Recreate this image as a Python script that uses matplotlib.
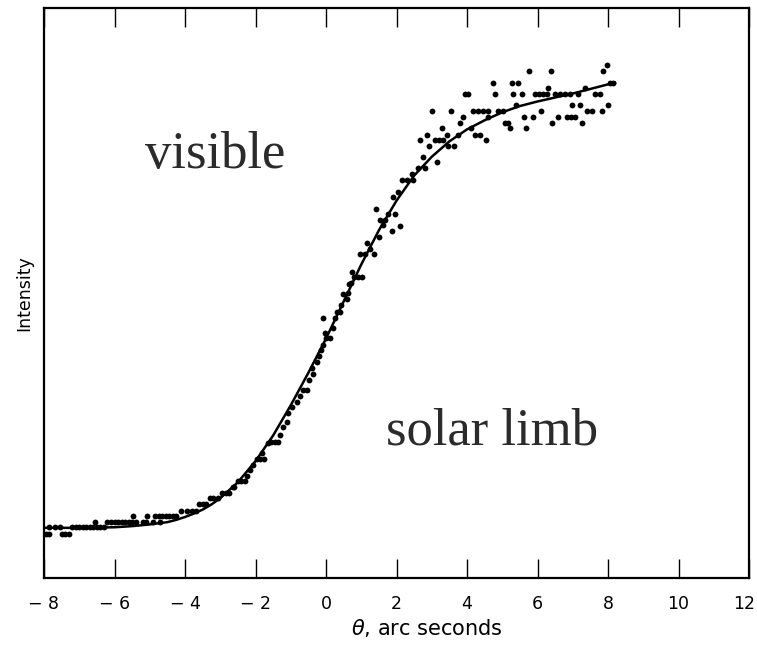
import matplotlib.pyplot as plt
import matplotlib.transforms as mtransforms
import numpy as np

dot_x = [-7.95, -7.85, -7.5, -7.4, -7.3,
         -7.85, -7.7, -7.55, -7.2, -7.1, -7.0, -6.9, -6.8, -6.7, -6.6, -6.5, -6.4, -6.3,
         -6.55,
         -6.2, -6.1, -6.0, -5.9, -5.8, -5.7, -5.6, -5.5, -5.4, -5.2, -5.1, -4.9, -4.71,
         -5.48, -5.08, -4.85, -4.75, -4.65, -4.55, -4.45, -4.35, -4.25,
         -4.1, -3.95, -3.8, -3.7,
         -3.6, -3.5, -3.4,
         -3.3, -3.2, -3.05,
         -2.95, -2.85, -2.75,
         -2.65, -2.6,
         -2.5, -2.4, -2.3, -2.24, -2.15, -2.07,
         -1.96, -1.86, -1.75, -1.82, -1.65, -1.55, -1.45, -1.35, -1.3, -1.22, -1.12, -1.08,
         -0.96, -0.82, -0.74, -0.65, -0.55, -0.48, -0.4, -0.37, -0.25, -0.2, -0.15, -0.09,
         -0.09, -0.03, 0.0, 0.1, 0.2, 0.25, 0.31, 0.4, 0.42, 0.47, 0.6, 0.62, 0.65, 0.7,
         0.75, 0.8, 0.9, 1.02, 0.97, 1.1, 1.16, 1.25, 1.36, 1.42, 1.5,
         1.53, 1.67, 1.62, 1.77, 1.96, 1.86, 2.10, 1.89, 2.05,
         2.15, 2.31, 2.46, 2.43, 2.62, 2.81, 2.74, 2.67, 2.86, 2.93, 3.16,
         3.0, 3.09, 3.21, 3.33, 3.28, 3.42, 3.47, 3.63, 3.55, 3.74, 3.80, 3.88,
         3.94, 4.04, 4.10, 4.23, 4.37, 4.18, 4.32, 4.46, 4.6, 4.53, 4.60,
         4.73, 4.79, 4.89, 5.03, 5.08, 5.17, 5.22, 5.27, 5.31, 5.39, 5.46, 5.55,
         5.62, 5.67, 5.77, 5.86, 5.93, 6.04, 6.15, 6.26, 6.10, 6.31, 6.37, 6.40,
         6.5, 6.64, 6.78, 6.59, 6.83, 6.95, 7.06, 6.92, 6.99, 7.16, 7.21, 7.25,
         7.35, 7.40, 7.54, 7.63, 7.77, 7.82, 7.87, 7.96, 8.01, 8.06, 8.15]
dot_y = [7.7, 7.7, 7.7, 7.7, 7.7,
         8.9, 8.9, 8.9, 8.9, 8.9, 8.9, 8.9, 8.9, 8.9, 8.9, 8.9, 8.9, 8.9,
         9.9,
         9.8, 9.8, 9.8, 9.8, 9.8, 9.8, 9.8, 9.8, 9.8, 9.8, 9.8, 9.8, 9.8,
         10.9, 10.9, 10.9, 10.9, 10.9, 10.9, 10.9, 10.9, 10.9,
         11.75, 11.75, 11.75, 11.75,
         13.0, 13.0, 13.0,
         14.0, 14.0, 14.0,
         15.0, 15.0, 15.0,
         16.0, 16.0,
         17.0, 17.0, 17.0, 17.9, 18.9, 19.8,
         20.9, 20.9, 20.9, 21.9, 23.7, 23.9, 23.9, 23.9, 25.1, 26.5, 27.3, 28.9,
         30.0, 30.9, 31.9, 33.0, 33.0, 34.7, 36.8, 35.8, 37.9, 38.9, 40.0, 40.9,
         45.6, 43.0, 42.1, 42.1, 43.9, 45.6, 46.7, 46.7, 47.9, 49.8, 48.9, 50.0, 51.6, 51.8,
         53.7, 52.8, 52.8, 52.8, 56.8, 56.8, 58.8, 57.7, 56.8, 64.7, 59.8,
         62.8, 62.8, 61.9, 63.9, 63.9, 60.8, 61.8, 66.9, 67.8,
         69.8, 69.8, 69.8, 70.9, 71.9, 71.9, 73.9, 76.8, 77.8, 75.8, 72.9,
         81.9, 76.8, 76.8, 76.8, 78.9, 77.8, 75.8, 75.8, 81.9, 77.8, 79.9, 80.8,
         85.0, 85.0, 78.9, 77.8, 77.8, 81.9, 81.9, 81.9, 81.9, 76.8, 80.8,
         86.9, 85.0, 81.9, 81.9, 79.9, 79.9, 78.9, 86.9, 85.0, 83.0, 86.9, 85.0,
         80.8, 78.9, 88.9, 80.8, 85.0, 85.0, 85.0, 85.0, 81.9, 85.9, 88.9, 79.9,
         85.0, 85.0, 85.0, 80.8, 80.8, 80.8, 80.8, 85.0, 83.0, 85.0, 83.0, 79.9,
         85.9, 81.9, 81.9, 85.0, 85.0, 81.9, 88.9, 90.0, 83.0, 86.9, 86.9]

# smooth fitted profile drawn under the points
curve_x = [-8, -7, -6, -5.5, -5, -4.5, -4.25, -4, -3.75, -3.5, -3.25, -3, -2.5, -2, -1.5,
           -1, -0.5, 0, 0.5, 1, 1.5, 2, 2.5, 3, 3.5, 4, 4.5, 5, 5.5, 6, 6.5, 7, 7.5, 8, 8.2]
curve_y = [8.8, 8.8, 8.9, 9.1, 9.4, 9.8, 10.2, 10.7, 11.3, 12.0, 12.9, 14.0, 16.8, 20.5, 25.0,
           30.3, 36.0, 42.0, 48.5, 55.0, 61.0, 66.2, 70.6, 73.9, 76.6, 78.7, 80.3, 81.7, 82.8,
           83.6, 84.3, 85.0, 85.8, 86.6, 86.9]

xticks = [-8, -6, -4, -2, 0, 2, 4, 6, 8, 10, 12]
xtick_labels = ['\u2212 8', '\u2212 6', '\u2212 4', '\u2212 2', '0', '2', '4', '6', '8', '10', '12']

fig = plt.figure(figsize=(7.57, 6.47), dpi=100)
ax = fig.add_axes([44 / 757, 1 - 578 / 647, 705 / 757, 570 / 647])

ax.plot(curve_x, curve_y, '-', color='black', lw=1.8)
ax.plot(dot_x, dot_y, 'o', color='black', ms=4.2, mec='none', clip_on=False)

ax.set_xlim(-8, 12)
ax.set_ylim(0, 100)
ax.set_xticks(xticks)
ax.set_xticklabels(xtick_labels, fontsize=12.5)
ax.set_yticks([])
ax.tick_params(axis='x', direction='in', length=14, width=1, top=True, pad=12)
for s in ax.spines.values():
    s.set_linewidth(1.6)

# pull the last label ("12") a little left so it stays inside the figure
last = ax.get_xticklabels()[-1]
last.set_transform(last.get_transform() + mtransforms.ScaledTranslation(-5 / 100, 0, fig.dpi_scale_trans))

ax.set_xlabel(r'$\theta$, arc seconds', fontsize=15)
ax.xaxis.set_label_coords(0.543, -0.068)
ax.set_ylabel('Intensity', fontsize=12.5, labelpad=8)

ax.text(145, 647 - 168, 'visible', transform=None, fontsize=38, family='Liberation Serif',
        color='#2b2b2b', va='baseline')
ax.text(0.485, 0.235, 'solar limb', transform=ax.transAxes, fontsize=38,
        family='Liberation Serif', color='#2b2b2b', va='baseline')

fig.savefig('out.png', dpi=100)
